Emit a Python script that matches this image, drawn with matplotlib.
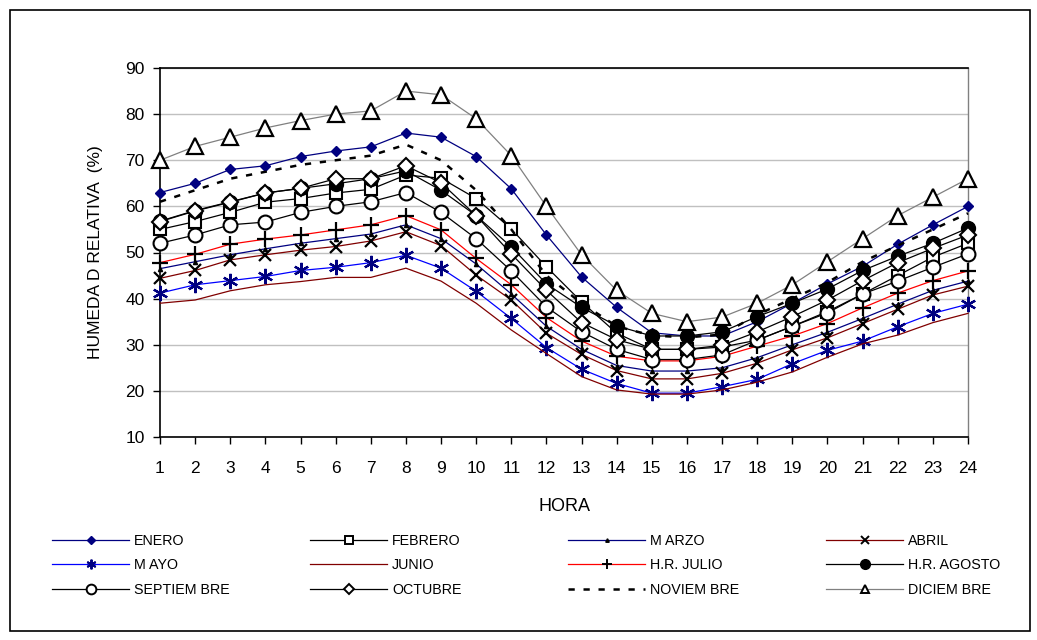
import matplotlib
matplotlib.use("Agg")
import matplotlib.pyplot as plt
from matplotlib.lines import Line2D
from matplotlib.patches import Rectangle

plt.rcParams['font.family'] = ['Liberation Sans', 'DejaVu Sans']

hours = list(range(1, 25))

enero = [63, 65, 68, 68.8, 70.8, 72, 72.9, 75.9, 75, 70.8, 63.8, 53.8, 44.7, 38.1, 32.6, 31.9, 31.9, 35, 39, 43.2, 47, 51.8, 56, 60]
febrero = [55, 56.7, 58.7, 60.9, 61.7, 62.9, 63.7, 66.8, 66.1, 61.7, 55.1, 46.9, 39.3, 32.5, 29, 29, 29.5, 31, 34, 37.2, 41, 45, 49, 52]
marzo = [46.5, 48, 49.5, 50.8, 52, 53, 54, 56, 53, 47.5, 41, 34, 29, 25.5, 24.3, 24.3, 25, 27.2, 30, 32.7, 35.7, 38.8, 41.8, 43.8]
abril = [44.4, 46.1, 48.4, 49.5, 50.5, 51.3, 52.5, 54.5, 51.5, 45.1, 39.7, 32.5, 27.9, 24.4, 22.6, 22.6, 23.8, 26, 28.9, 31.5, 34.6, 37.7, 40.8, 42.7]
mayo = [41.2, 43, 43.9, 44.8, 46.1, 46.8, 47.8, 49.4, 46.6, 41.6, 35.7, 29.4, 24.7, 21.6, 19.5, 19.5, 20.9, 22.5, 25.9, 28.8, 30.8, 33.9, 36.8, 38.8]
junio = [39, 39.7, 41.7, 43, 43.7, 44.6, 44.6, 46.6, 43.8, 39, 33.2, 28.1, 23.1, 20.2, 19.3, 19.3, 20.2, 21.9, 24.1, 27.3, 30.2, 32.1, 34.8, 36.8]
julio = [47.8, 49.6, 51.8, 52.9, 53.8, 54.9, 56, 58, 54.9, 48.7, 43, 35.9, 30.8, 27.5, 26.5, 26.5, 27.5, 29.7, 31.9, 34.6, 38, 41.2, 43.9, 46]
agosto = [56.8, 59.1, 61, 62.9, 63.9, 64.9, 66, 67.7, 63.5, 58, 51.2, 43.2, 38.1, 34.1, 31.9, 31.9, 32.8, 36.1, 39, 42.1, 46.1, 49.2, 52, 55.3]
septiembre = [52, 53.8, 56, 56.6, 58.7, 60, 61, 63, 58.7, 53, 46, 38.2, 32.8, 29, 26.8, 26.8, 27.8, 31, 34, 36.9, 41, 43.8, 46.8, 49.7]
octubre = [56.7, 59, 60.9, 62.9, 63.9, 66, 66, 68.8, 65.1, 58, 49.7, 41.8, 34.8, 31.1, 29, 29, 29.9, 32.8, 36.1, 39.7, 43.9, 47.8, 50.9, 53.8]
noviembre = [61, 63.5, 66, 67.5, 69, 70, 71, 73.4, 70, 63.5, 55, 45, 39, 34, 32, 31.6, 32.2, 36.5, 40, 43.5, 48, 51.5, 55, 58.5]
diciembre = [70, 73, 75, 77, 78.6, 80, 80.7, 85, 84.2, 79, 71, 60, 49.5, 41.8, 36.8, 35, 36, 39, 43, 48, 53, 58, 62, 66]

labels = ["ENERO", "FEBRERO", "M ARZO", "ABRIL", "M AYO", "JUNIO", "H.R. JULIO",
          "H.R. AGOSTO", "SEPTIEM BRE", "OCTUBRE", "NOVIEM BRE", "DICIEM BRE"]
yticks = [10, 20, 30, 40, 50, 60, 70, 80, 90]

series = [enero, febrero, marzo, abril, mayo, junio, julio, agosto, septiembre, octubre, noviembre, diciembre]

# style: (line color, linestyle, marker, ms, mfc, mec, mew, legend ms)
styles = [
    ('#000080', '-', 'D', 5.5, '#000080', '#000080', 1.0, 4.5),
    ('black', '-', 's', 9, 'white', 'black', 1.5, 6),
    ('#000080', '-', '^', 3, 'black', 'black', 1.0, 2.5),
    ('#800000', '-', 'x', 9, 'none', 'black', 1.6, 6),
    ('#0000FF', '-', (6, 2, 0), 11, 'none', '#000080', 1.6, 7),
    ('#800000', '-', 'None', 0, 'none', 'black', 1.0, 0),
    ('#FF0000', '-', '+', 11, 'none', 'black', 1.6, 7),
    ('black', '-', 'o', 10, 'black', 'black', 1.0, 7),
    ('black', '-', 'o', 10, 'white', 'black', 1.5, 7),
    ('black', '-', 'D', 8, 'white', 'black', 1.5, 5),
    ('black', (0, (2.5, 3.5)), 'None', 0, 'none', 'black', 1.0, 0),
    ('#808080', '-', '^', 11, 'white', 'black', 1.6, 6),
]

fig = plt.figure(figsize=(10.37, 6.40), dpi=100)
ax = fig.add_axes([160/1037, 1-437/640, (968-160)/1037, (437-68)/640])

for i, (vals, st) in enumerate(zip(series, styles)):
    col, ls, mk, ms, mfc, mec, mew, _ = st
    lw = 1.8 if i == 10 else 0.9
    ax.plot(hours, vals, color=col, linestyle=ls, linewidth=lw, marker=mk, markersize=ms,
            markerfacecolor=mfc, markeredgecolor=mec, markeredgewidth=mew, zorder=3 + i * 0.1,
            clip_on=False)

ax.set_xlim(1, 24)
ax.set_ylim(10, 90)
ax.set_xticks(hours)
ax.set_yticks(yticks)
ax.yaxis.grid(True, color='#c0c0c0', linewidth=1.0)
ax.set_axisbelow(True)
ax.tick_params(axis='x', direction='out', length=5, width=1, pad=12, labelsize=12.5)
ax.tick_params(axis='y', direction='out', length=5, width=1, pad=6, labelsize=12.5)
for s in ['left', 'bottom', 'top']:
    ax.spines[s].set_color('black')
    ax.spines[s].set_linewidth(1.2)
ax.spines['right'].set_color('#808080')
ax.spines['right'].set_linewidth(1.0)

ax.set_xlabel("HORA", fontsize=13, labelpad=16)
ax.set_ylabel("HUMEDA D RELATIVA  (%)", fontsize=12.5, labelpad=16)

# legend: four columns, three rows, row-major order as in the reference
handles = []
for st in styles:
    col, ls, mk, ms, mfc, mec, mew, lms = st
    lw = 1.8 if ls != '-' else 0.9
    handles.append(Line2D([], [], color=col, linestyle=ls, linewidth=lw, marker=mk,
                          markersize=lms, markerfacecolor=mfc, markeredgecolor=mec,
                          markeredgewidth=min(mew, 1.4)))

col_x = [52/1037, 310/1037, 568/1037, 826/1037]
for c in range(4):
    idx = [c, c + 4, c + 8]
    fig.legend([handles[k] for k in idx], [labels[k] for k in idx],
               loc='upper left', bbox_to_anchor=(col_x[c], 1 - 534/640),
               frameon=False, fontsize=10.3, handlelength=5.4, handletextpad=0.35,
               labelspacing=0.72, borderpad=0, borderaxespad=0)

fig.patches.append(Rectangle((10/1037, 1-631/640), 1020/1037, 621/640,
                             transform=fig.transFigure, fill=False,
                             edgecolor='black', linewidth=1.2))

fig.savefig("out.png", dpi=100)
